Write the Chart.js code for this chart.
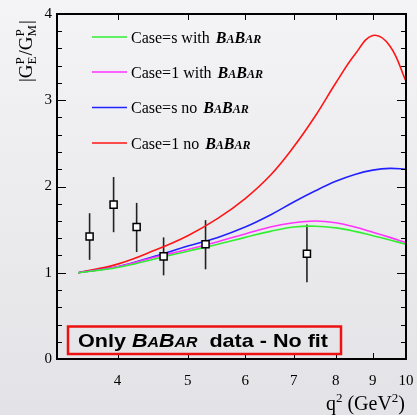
<!DOCTYPE html>
<html lang="en">
<head>
  <meta charset="UTF-8">
  <title>|GE/GM| ratio</title>
  <script src="https://cdn.jsdelivr.net/npm/chart.js@4/dist/chart.umd.min.js"></script>
  <style>
    body { margin: 0; background: #ececef; }
    canvas { display: block; }
  </style>
</head>
<body>
  <canvas id="chart" width="417" height="415"></canvas>

  <script>
    // data
    const curveQ2 = [3.53, 4.0, 4.5, 5.0, 5.5, 6.0, 6.5, 7.0, 7.5, 8.0, 8.5, 9.0, 9.5, 10];
    const caseSWithBabar = [1.00, 1.06, 1.16, 1.25, 1.33, 1.41, 1.48, 1.53, 1.54, 1.52, 1.48, 1.43, 1.38, 1.33];
    const case1WithBabar = [1.00, 1.07, 1.18, 1.27, 1.36, 1.45, 1.53, 1.58, 1.60, 1.58, 1.53, 1.47, 1.41, 1.35];
    const caseSNoBabar   = [1.00, 1.07, 1.19, 1.31, 1.41, 1.53, 1.67, 1.82, 1.95, 2.06, 2.14, 2.19, 2.21, 2.20];
    const case1NoBabar   = [1.00, 1.10, 1.26, 1.43, 1.63, 1.86, 2.13, 2.46, 2.82, 3.20, 3.53, 3.75, 3.63, 3.22];

    const dataQ2      = [3.66, 3.95, 4.25, 4.63, 5.29, 7.30];
    const dataRatio   = [1.42, 1.79, 1.53, 1.19, 1.33, 1.22];
    const dataErrLow  = [1.15, 1.47, 1.24, 0.97, 1.04, 0.89];
    const dataErrHigh = [1.69, 2.11, 1.81, 1.41, 1.61, 1.56];

    const xTicks = [4, 5, 6, 7, 8, 9, 10];

    const legendLabels = ["Case=s with ", "Case=1 with ", "Case=s no ", "Case=1 no "];
    const curveColors = ["#33ee33", "#ff33ff", "#2222ff", "#ff1515"];
    const curveValues = [caseSWithBabar, case1WithBabar, caseSNoBabar, case1NoBabar];

    const SERIF = '"Liberation Serif", "DejaVu Serif", serif';
    const SANS = '"Liberation Sans", Arial, sans-serif';

    function toXY(xs, ys) {
      return xs.map((x, i) => ({ x: x, y: ys[i] }));
    }

    // BABAR in small caps; returns end x (or width if measureOnly)
    function drawBabar(ctx, x, y, big, small, family, measureOnly) {
      const start = x;
      const parts = [["B", big], ["A", small], ["B", big], ["AR", small]];
      parts.forEach(p => {
        ctx.font = "italic bold " + p[1] + "px " + family;
        if (!measureOnly) ctx.fillText(p[0], x, y);
        x += ctx.measureText(p[0]).width;
      });
      return measureOnly ? x - start : x;
    }

    const background = {
      id: "background",
      beforeDraw(chart) {
        const ctx = chart.ctx;
        const g = ctx.createLinearGradient(0, 0, 0, chart.height);
        g.addColorStop(0, "#f4f4f6");
        g.addColorStop(1, "#e3e3e7");
        ctx.save();
        ctx.fillStyle = g;
        ctx.fillRect(0, 0, chart.width, chart.height);
        ctx.restore();
      }
    };

    const errorBars = {
      id: "errorBars",
      beforeDatasetsDraw(chart) {
        const ctx = chart.ctx;
        const xs = chart.scales.x, ys = chart.scales.y;
        ctx.save();
        ctx.strokeStyle = "#222";
        ctx.lineWidth = 1.6;
        dataQ2.forEach((q, i) => {
          const px = xs.getPixelForValue(q);
          ctx.beginPath();
          ctx.moveTo(px, ys.getPixelForValue(dataErrLow[i]));
          ctx.lineTo(px, ys.getPixelForValue(dataErrHigh[i]));
          ctx.stroke();
        });
        ctx.restore();
      }
    };

    const frame = {
      id: "frame",
      afterDatasetsDraw(chart) {
        const ctx = chart.ctx;
        const a = chart.chartArea;
        const xs = chart.scales.x, ys = chart.scales.y;
        ctx.save();
        ctx.strokeStyle = "#000";
        ctx.lineWidth = 1;
        ctx.beginPath();
        xTicks.forEach(v => {
          const px = Math.round(xs.getPixelForValue(v)) + 0.5;
          ctx.moveTo(px, a.bottom); ctx.lineTo(px, a.bottom - 6);
          ctx.moveTo(px, a.top); ctx.lineTo(px, a.top + 6);
        });
        for (let i = 0; i <= 20; i++) {
          const v = i * 0.2;
          const py = Math.round(ys.getPixelForValue(v)) + 0.5;
          const len = (i % 5 === 0) ? 9 : 5;
          ctx.moveTo(a.left, py); ctx.lineTo(a.left + len, py);
          ctx.moveTo(a.right, py); ctx.lineTo(a.right - len, py);
        }
        ctx.stroke();
        ctx.lineWidth = 2;
        ctx.strokeRect(a.left, a.top, a.right - a.left, a.bottom - a.top);
        ctx.restore();
      }
    };

    const annotations = {
      id: "annotations",
      afterDraw(chart) {
        const ctx = chart.ctx;
        ctx.save();
        ctx.fillStyle = "#000";
        ctx.textBaseline = "alphabetic";

        // legend
        const rowY = [37, 72, 107.5, 143];
        legendLabels.forEach((lab, i) => {
          ctx.strokeStyle = curveColors[i];
          ctx.lineWidth = 1.6;
          ctx.beginPath();
          ctx.moveTo(92, rowY[i]);
          ctx.lineTo(127, rowY[i]);
          ctx.stroke();
          ctx.font = "16px " + SERIF;
          ctx.fillText(lab, 131, rowY[i] + 5.5);
          const w = ctx.measureText(lab).width;
          drawBabar(ctx, 131 + w + 2, rowY[i] + 5.5, 16, 12, SERIF);
        });

        // box
        ctx.strokeStyle = "#ee1111";
        ctx.lineWidth = 2.5;
        ctx.strokeRect(68, 326.5, 273, 27.5);
        const by = 346.5;
        ctx.font = "bold 19px " + SANS;
        const w1 = ctx.measureText("Only ").width;
        const wb = drawBabar(ctx, 0, 0, 19, 14, SANS, true);
        ctx.font = "bold 19px " + SANS;
        const w3 = ctx.measureText("  data - No fit").width;
        const sx = 250 / (w1 + wb + w3);
        ctx.save();
        ctx.translate(78, by);
        ctx.scale(sx, 1);
        ctx.font = "bold 19px " + SANS;
        ctx.fillText("Only ", 0, 0);
        let bx = drawBabar(ctx, w1, 0, 19, 14, SANS);
        ctx.font = "bold 19px " + SANS;
        ctx.fillText("  data - No fit", bx, 0);
        ctx.restore();

        // x title, right aligned
        const parts = [["q", 20, 0], ["2", 13, -8], [" (GeV", 20, 0], ["2", 13, -8], [")", 20, 0]];
        let total = 0;
        parts.forEach(p => { ctx.font = p[1] + "px " + SERIF; total += ctx.measureText(p[0]).width; });
        let x = 405 - total;
        parts.forEach(p => {
          ctx.font = p[1] + "px " + SERIF;
          ctx.fillText(p[0], x, 410 + p[2]);
          x += ctx.measureText(p[0]).width;
        });

        // y title, rotated
        ctx.translate(32, 82);
        ctx.rotate(-Math.PI / 2);
        x = 0;
        const big = "19px " + SERIF, sm = "13px " + SERIF;
        function t(s, f, dy) { ctx.font = f; ctx.fillText(s, x, dy); return ctx.measureText(s).width; }
        x += t("|G", big, 0);
        let a1 = t("P", sm, -8);
        let a2 = t("E", sm, 4);
        x += Math.max(a1, a2) + 1;
        x += t("/G", big, 0);
        a1 = t("P", sm, -8);
        a2 = t("M", sm, 4);
        x += Math.max(a1, a2) + 1;
        t("|", big, 0);
        ctx.restore();
      }
    };

    const datasets = [{
      label: "data",
      data: toXY(dataQ2, dataRatio),
      pointStyle: "rect",
      pointRadius: 5,
      pointBackgroundColor: "#ffffff",
      pointBorderColor: "#000000",
      pointBorderWidth: 1.5,
      showLine: false
    }];
    curveValues.forEach((vals, i) => {
      datasets.push({
        label: legendLabels[i],
        data: toXY(curveQ2, vals),
        showLine: true,
        borderColor: curveColors[i],
        borderWidth: 1.6,
        pointRadius: 0,
        tension: 0.4
      });
    });

    new Chart(document.getElementById("chart").getContext("2d"), {
      type: "scatter",
      data: { datasets: datasets },
      plugins: [background, errorBars, frame, annotations],
      options: {
        responsive: false,
        animation: false,
        layout: { padding: { top: 14, right: 11, left: 0, bottom: 0 } },
        plugins: { legend: { display: false }, tooltip: { enabled: false } },
        scales: {
          x: {
            type: "logarithmic",
            min: 3.3,
            max: 10,
            grid: { display: false, drawTicks: false },
            border: { display: false },
            afterBuildTicks: scale => { scale.ticks = xTicks.map(v => ({ value: v })); },
            afterFit: scale => { scale.height = 56; scale.paddingLeft = 0; scale.paddingRight = 0; },
            ticks: {
              autoSkip: false,
              maxRotation: 0,
              padding: 13,
              color: "#000",
              font: { family: SERIF, size: 15 },
              callback: v => String(v)
            }
          },
          y: {
            min: 0,
            max: 4,
            grid: { display: false, drawTicks: false },
            border: { display: false },
            afterFit: scale => { scale.width = 57; scale.paddingTop = 0; scale.paddingBottom = 0; },
            ticks: {
              stepSize: 1,
              padding: 5,
              color: "#000",
              font: { family: SERIF, size: 15 }
            }
          }
        }
      }
    });
  </script>
</body>
</html>
